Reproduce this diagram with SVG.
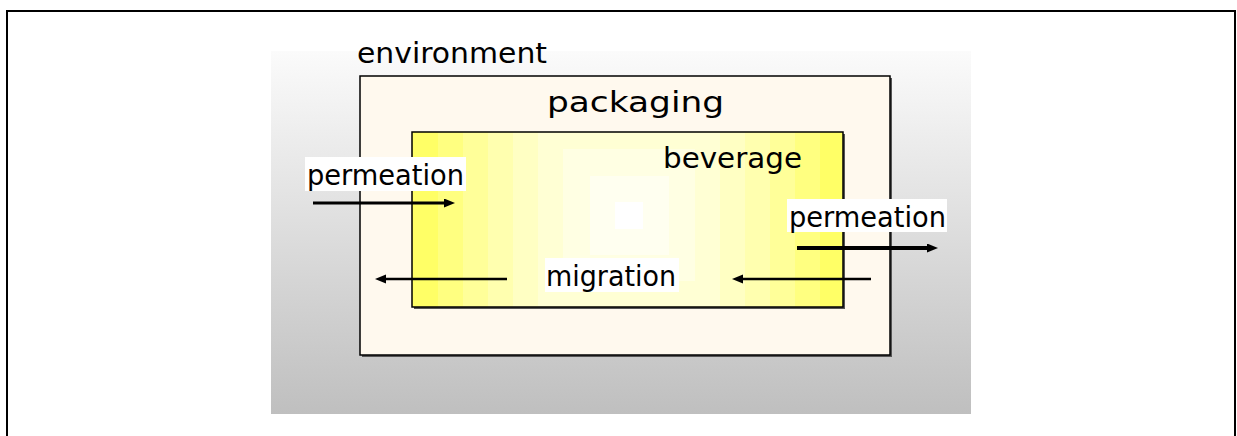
<svg xmlns="http://www.w3.org/2000/svg" width="1237" height="436" viewBox="0 0 1237 436">
  <style>
    .lbl { font-family: "DejaVu Sans", Verdana, sans-serif; font-size: 28px; fill: #000; }
    .tbg { fill: #ffffff; }
    .box { stroke: #000; stroke-width: 1.5; }
    .shadow { fill: #555; }
    .arr { stroke: #000; fill: none; }
  </style>
  <defs>
    <linearGradient id="envGrad" x1="0" y1="0" x2="0" y2="1">
      <stop offset="0" stop-color="#fbfbfb"/>
      <stop offset="1" stop-color="#bfbfbf"/>
    </linearGradient>
    <clipPath id="bevClip">
      <rect x="412" y="132" width="431" height="175"/>
    </clipPath>
    <marker id="ah" markerUnits="userSpaceOnUse" markerWidth="12" markerHeight="10" refX="2" refY="4.5" orient="auto" viewBox="0 0 12 10">
      <path d="M0,0 L11,4.5 L0,9 Z" fill="#000"/>
    </marker>
  </defs>

  <rect x="0" y="0" width="1237" height="436" fill="#ffffff"/>
  <rect x="7" y="11" width="1228" height="440" fill="none" stroke="#000" stroke-width="2"/>

  <g id="environment">
    <rect x="271" y="51" width="700" height="363" fill="url(#envGrad)"/>
    <text class="lbl" x="357" y="63" textLength="190" lengthAdjust="spacingAndGlyphs">environment</text>
  </g>

  <g id="packaging">
    <rect class="shadow" x="362" y="78" width="530" height="279"/>
    <rect class="box" x="360" y="76" width="530" height="279" fill="#fff9ee"/>
    <text class="lbl" x="547" y="112" textLength="177" lengthAdjust="spacingAndGlyphs">packaging</text>
  </g>

  <g id="beverage">
    <rect class="shadow" x="414" y="134" width="431" height="175"/>
    <g clip-path="url(#bevClip)">
      <rect x="412" y="132" width="431" height="175" fill="#ffff66"/>
      <rect x="438" y="24" width="382" height="382" fill="#ffff80"/>
      <rect x="463" y="49" width="332" height="332" fill="#ffff99"/>
      <rect x="488" y="74" width="282" height="282" fill="#ffffaf"/>
      <rect x="513" y="99" width="232" height="232" fill="#ffffc3"/>
      <rect x="538" y="124" width="182" height="182" fill="#ffffd4"/>
      <rect x="563" y="149" width="132" height="132" fill="#ffffe3"/>
      <rect x="590" y="176" width="79" height="79" fill="#fffff0"/>
      <rect x="615" y="202" width="28" height="27" fill="#ffffff"/>
    </g>
    <rect class="box" x="412" y="132" width="431" height="175" fill="none"/>
    <text class="lbl" x="663" y="168" textLength="139" lengthAdjust="spacingAndGlyphs">beverage</text>
  </g>

  <g id="connectors">
    <line class="arr" x1="313" y1="203" x2="446" y2="203" stroke-width="3" marker-end="url(#ah)"/>
    <line class="arr" x1="797" y1="248" x2="929" y2="248" stroke-width="4" marker-end="url(#ah)"/>
    <line class="arr" x1="507" y1="279" x2="384" y2="279" stroke-width="2.5" marker-end="url(#ah)"/>
    <line class="arr" x1="871" y1="279" x2="741" y2="279" stroke-width="2.5" marker-end="url(#ah)"/>
  </g>

  <g id="label-permeation-in">
    <rect class="tbg" x="305" y="157" width="161" height="34"/>
    <text class="lbl" x="307" y="185" textLength="157" lengthAdjust="spacingAndGlyphs">permeation</text>
  </g>
  <g id="label-permeation-out">
    <rect class="tbg" x="787" y="199" width="160" height="33"/>
    <text class="lbl" x="789" y="227" textLength="157" lengthAdjust="spacingAndGlyphs">permeation</text>
  </g>
  <g id="label-migration">
    <rect class="tbg" x="545" y="258" width="134" height="34"/>
    <text class="lbl" x="546" y="286" textLength="130" lengthAdjust="spacingAndGlyphs">migration</text>
  </g>
</svg>
